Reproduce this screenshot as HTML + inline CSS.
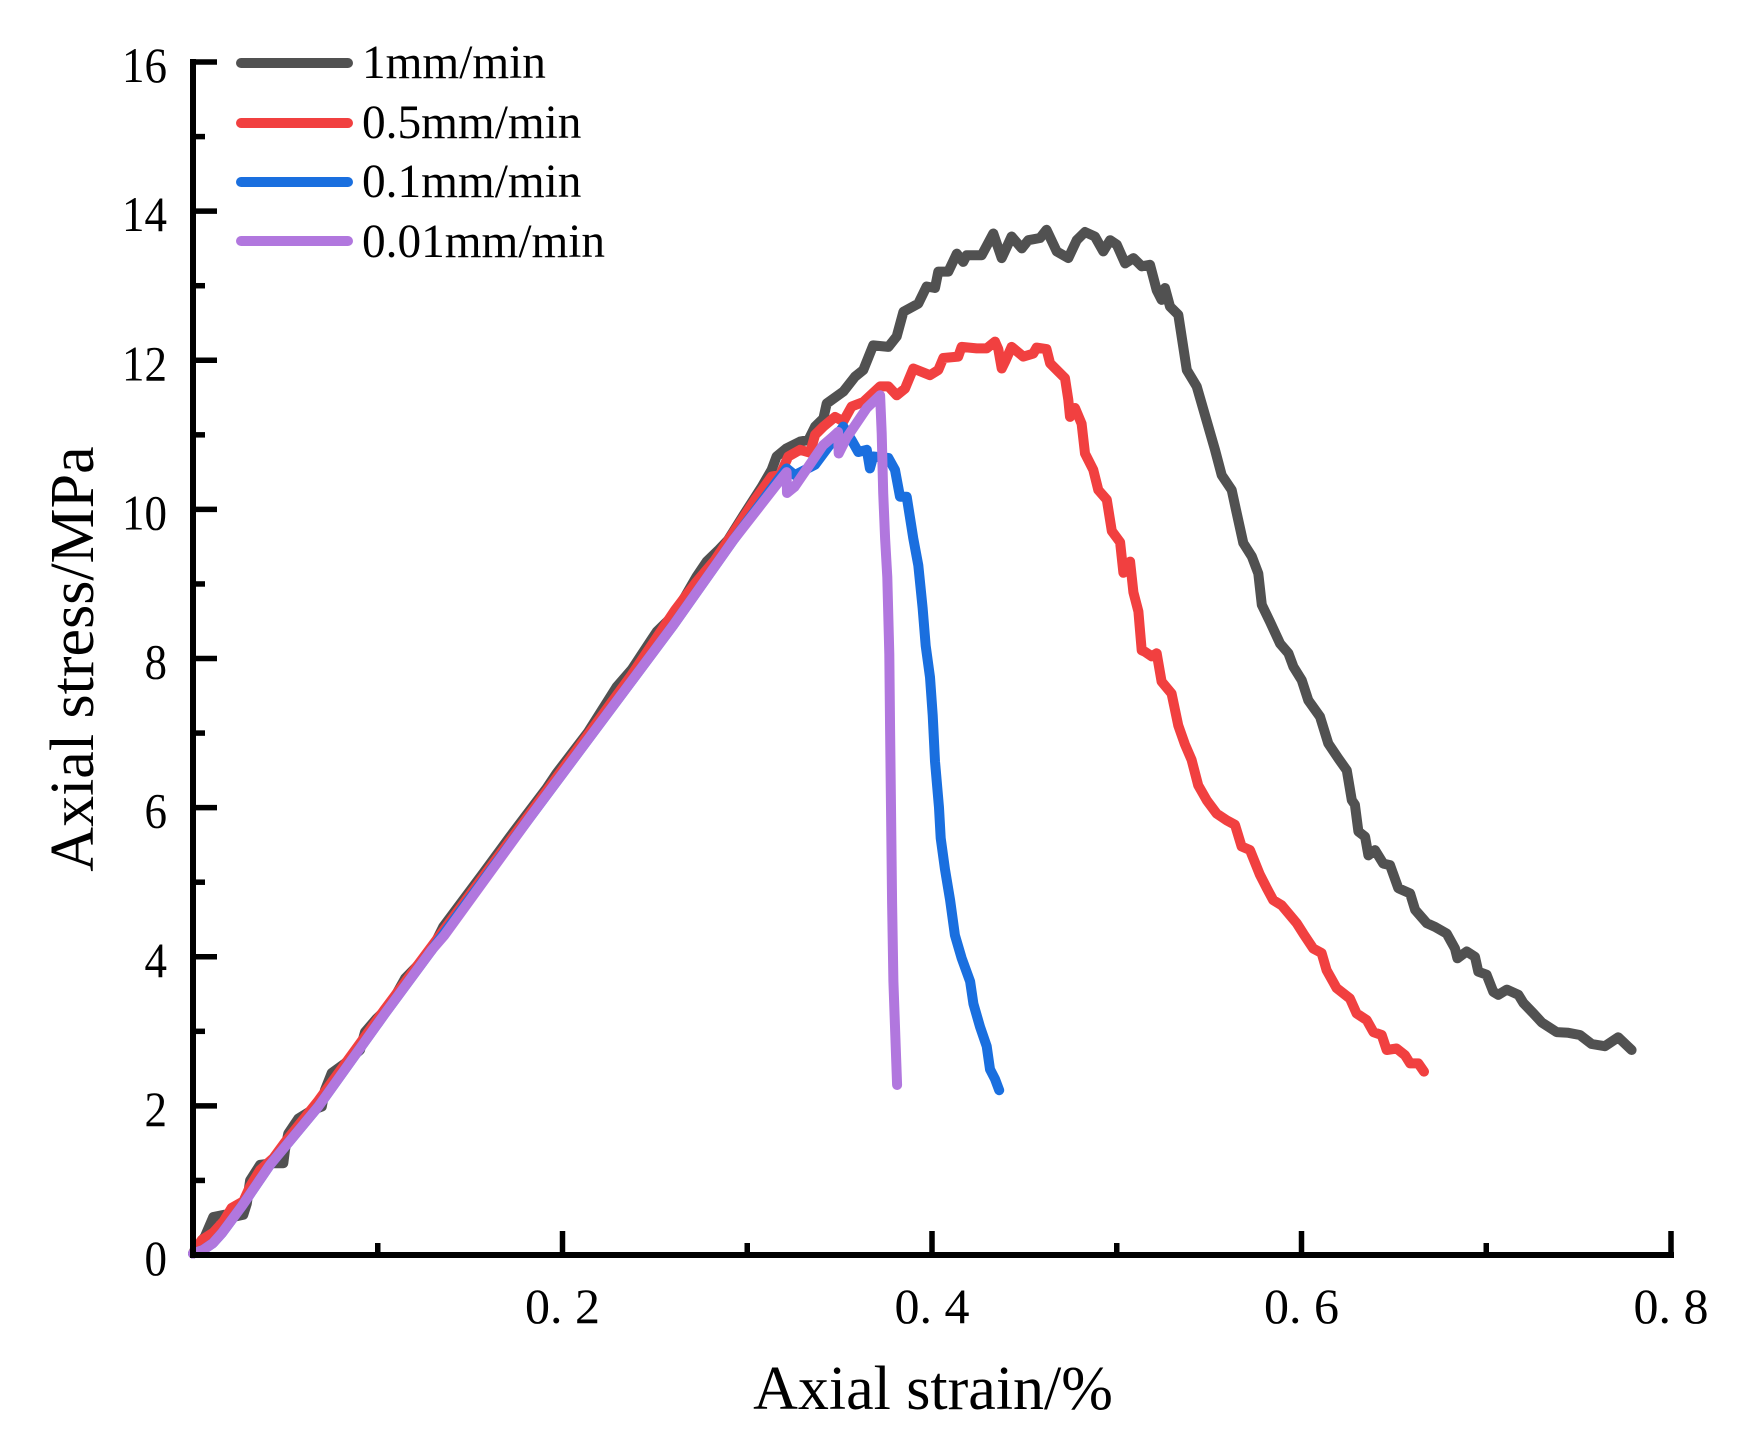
<!DOCTYPE html>
<html lang="en">
<head>
<meta charset="utf-8">
<title>Axial stress vs axial strain</title>
<style>
html,body{margin:0;padding:0;background:#fff;width:1741px;height:1449px;overflow:hidden}
svg{display:block}
text{font-family:"Liberation Serif","Times New Roman",serif;fill:#000}
.legend-text{font-size:47.3px}
.axis-title{font-size:62px}
.tick-text{font-size:50px}
</style>
</head>
<body>
<svg id="chart" xmlns="http://www.w3.org/2000/svg" width="1741" height="1449" viewBox="0 0 1741 1449">
  <rect x="0" y="0" width="1741" height="1449" fill="#fff"/>
  <g id="series-layer"></g>
  <g id="axes-layer"></g>
  <text class="axis-title" x="933" y="1409" text-anchor="middle">Axial strain/%</text>
  <text class="axis-title" transform="translate(93,659) rotate(-90)" text-anchor="middle">Axial stress/MPa</text>
  <g>
    <line x1="241" y1="63" x2="348" y2="63" stroke="#515151" stroke-width="10" stroke-linecap="round"/>
    <text class="legend-text" x="362" y="78">1mm/min</text>
    <line x1="241" y1="123" x2="348" y2="123" stroke="#F14040" stroke-width="10" stroke-linecap="round"/>
    <text class="legend-text" x="362" y="138">0.5mm/min</text>
    <line x1="241" y1="182" x2="348" y2="182" stroke="#1A6FDF" stroke-width="10" stroke-linecap="round"/>
    <text class="legend-text" x="362" y="197">0.1mm/min</text>
    <line x1="241" y1="241" x2="348" y2="241" stroke="#B177DE" stroke-width="10" stroke-linecap="round"/>
    <text class="legend-text" x="362" y="257">0.01mm/min</text>
  </g>
</svg>
<script>
var xMajorTicks = [0.2, 0.4, 0.6, 0.8];
var xMajorLabels = ["0. 2", "0. 4", "0. 6", "0. 8"];
var xMinorTicks = [0.1, 0.3, 0.5, 0.7];
var yMajorTicks = [0, 2, 4, 6, 8, 10, 12, 14, 16];
var yMajorLabels = ["0", "2", "4", "6", "8", "10", "12", "14", "16"];
var yMinorTicks = [1, 3, 5, 7, 9, 11, 13, 15];

var strain1 = [0,.001,.0065,.011,.0173,.0235,.0272,.0291,.0309,.0363,.0426,.0489,.0498,.0516,.057,.0642,.0697,.0714,.0751,.0823,.0904,.0931,.0994,.1049,.1103,.1148,.1211,.1292,.1354,.157,.1716,.1914,.1968,.214,.2293,.2374,.251,.26,.2663,.2726,.278,.2843,.2896,.2979,.3078,.3132,.3159,.3213,.3286,.3331,.3367,.3412,.343,.352,.3583,.3628,.3682,.3764,.3809,.3845,.3926,.3971,.4016,.4034,.4088,.4134,.4169,.4188,.4269,.4332,.4377,.4431,.4486,.4521,.4585,.462,.4675,.4738,.4783,.4828,.4882,.4927,.4964,.5,.5045,.509,.5135,.518,.5216,.5243,.5261,.5288,.5333,.5379,.5433,.5532,.5568,.5622,.5649,.5685,.5731,.5766,.5785,.583,.5884,.5929,.5956,.6001,.6037,.61,.6145,.6199,.6245,.6272,.6289,.6308,.6344,.6362,.6398,.6443,.6479,.6524,.6588,.6615,.6678,.6723,.6786,.6831,.6844,.6894,.6939,.6957,.7002,.7038,.7065,.7111,.7174,.7201,.7255,.73,.7381,.7444,.7507,.757,.7642,.7714,.7787];
var stress1 = [.02,.07,.25,.51,.54,.52,.54,.69,1.0,1.21,1.23,1.23,1.41,1.63,1.83,1.94,1.99,2.21,2.44,2.57,2.75,2.99,3.17,3.3,3.51,3.71,3.87,4.09,4.4,5.12,5.61,6.26,6.46,7.02,7.62,7.85,8.36,8.58,8.83,9.1,9.3,9.45,9.59,9.92,10.3,10.53,10.71,10.82,10.91,10.93,11.11,11.22,11.42,11.58,11.78,11.87,12.2,12.18,12.32,12.65,12.76,12.99,12.97,13.19,13.19,13.43,13.32,13.41,13.41,13.7,13.37,13.66,13.5,13.61,13.64,13.75,13.46,13.37,13.61,13.72,13.66,13.46,13.61,13.55,13.3,13.37,13.26,13.28,12.94,12.81,12.97,12.72,12.61,11.87,11.65,10.8,10.46,10.26,9.95,9.55,9.37,9.14,8.72,8.49,8.2,8.07,7.89,7.71,7.44,7.22,6.86,6.66,6.5,6.1,6.04,5.68,5.61,5.36,5.43,5.25,5.23,4.92,4.85,4.63,4.45,4.4,4.31,4.11,3.98,4.07,4.0,3.8,3.76,3.53,3.49,3.56,3.49,3.38,3.24,3.12,2.99,2.98,2.95,2.83,2.8,2.92,2.75];

var strain05 = [0,.0047,.011,.0165,.0209,.0272,.0309,.0363,.0435,.05,.0678,.1039,.1292,.1833,.2203,.2374,.2501,.2609,.2726,.2825,.2923,.3042,.3132,.3177,.3222,.3286,.334,.3367,.3412,.3475,.352,.3565,.3628,.3719,.3764,.3809,.3854,.3899,.3989,.4034,.4061,.4142,.416,.4242,.4296,.4341,.4359,.4377,.4395,.4431,.4494,.4548,.4566,.462,.4639,.472,.4738,.4747,.4774,.481,.4828,.4873,.49,.4946,.4973,.5018,.5036,.5072,.509,.5117,.5135,.5153,.5189,.5216,.5243,.5297,.5333,.5369,.5405,.5441,.5487,.5541,.5595,.564,.5676,.5721,.5775,.5812,.5847,.5893,.5974,.601,.6064,.6109,.6136,.619,.6262,.6298,.6353,.6389,.6434,.6461,.6515,.656,.6588,.6632,.6663];
var stress05 = [.02,.2,.3,.45,.63,.72,.92,1.14,1.3,1.52,2.07,3.3,4.14,5.95,7.2,7.78,8.25,8.65,9.03,9.32,9.68,10.13,10.44,10.46,10.71,10.8,10.76,11.0,11.11,11.24,11.18,11.38,11.44,11.65,11.65,11.53,11.62,11.89,11.8,11.87,12.03,12.05,12.18,12.16,12.16,12.25,12.15,11.89,11.98,12.18,12.05,12.09,12.17,12.15,11.96,11.76,11.47,11.24,11.36,11.15,10.75,10.53,10.26,10.13,9.71,9.56,9.15,9.3,8.89,8.63,8.11,8.09,8.03,8.07,7.69,7.53,7.1,6.85,6.64,6.3,6.1,5.92,5.83,5.77,5.48,5.43,5.1,4.92,4.76,4.69,4.45,4.31,4.11,4.05,3.82,3.58,3.44,3.24,3.15,2.99,2.95,2.75,2.77,2.68,2.57,2.57,2.46];

var strain01 = [0,.0054,.0108,.0157,.0263,.0417,.0678,.1039,.1292,.1833,.2203,.26,.2925,.3213,.3258,.3367,.352,.3565,.3601,.3647,.3664,.3682,.3764,.38,.3827,.3863,.3899,.3926,.3949,.3966,.3989,.4004,.4016,.4038,.4047,.407,.4098,.4124,.4161,.4206,.4224,.426,.4296,.4314,.4341,.4364];
var stress01 = [.02,.067,.16,.295,.65,1.21,1.99,3.24,4.09,5.9,7.13,8.45,9.59,10.55,10.46,10.6,11.11,10.93,10.77,10.8,10.55,10.71,10.69,10.53,10.17,10.17,9.61,9.25,8.68,8.17,7.75,7.24,6.62,6.0,5.59,5.18,4.76,4.29,3.98,3.67,3.37,3.06,2.8,2.49,2.36,2.21];

var strain001 = [0,.0054,.0108,.0157,.0263,.0417,.0678,.1039,.1292,.1358,.1833,.2203,.26,.2925,.3177,.3213,.3215,.3255,.341,.3457,.3492,.3495,.3538,.3647,.3719,.3728,.3736,.3746,.3758,.3769,.3773,.3778,.3784,.3791,.3802,.3811];
var stress001 = [.02,.067,.16,.295,.65,1.21,1.99,3.24,4.09,4.28,5.9,7.13,8.45,9.59,10.39,10.5,10.22,10.3,10.86,10.96,11.04,10.75,10.96,11.36,11.53,11.02,10.22,9.61,9.09,8.06,7.03,6.0,4.71,3.67,2.91,2.28];

var SVG_NS = "http://www.w3.org/2000/svg";
function xPos(v) { return 193 + v * 1847.5; }
function yPos(v) { return 1255 - v * 74.56; }

function makeLine(x1, y1, x2, y2, width) {
  var el = document.createElementNS(SVG_NS, "line");
  el.setAttribute("x1", x1);
  el.setAttribute("y1", y1);
  el.setAttribute("x2", x2);
  el.setAttribute("y2", y2);
  el.setAttribute("stroke", "#000");
  el.setAttribute("stroke-width", width);
  return el;
}

function drawSeries(name, xs, ys, color) {
  var el = document.createElementNS(SVG_NS, "polyline");
  var pts = [];
  for (var i = 0; i < xs.length; i++) {
    pts.push(xPos(xs[i]).toFixed(1) + "," + yPos(ys[i]).toFixed(1));
  }
  el.setAttribute("points", pts.join(" "));
  el.setAttribute("fill", "none");
  el.setAttribute("stroke", color);
  el.setAttribute("stroke-width", "10");
  el.setAttribute("stroke-linejoin", "round");
  el.setAttribute("stroke-linecap", "round");
  
  
  document.getElementById("series-layer").appendChild(el);
}

drawSeries("series-1mm-min", strain1, stress1, "#515151");
drawSeries("series-0-5mm-min", strain05, stress05, "#F14040");
drawSeries("series-0-1mm-min", strain01, stress01, "#1A6FDF");
drawSeries("series-0-01mm-min", strain001, stress001, "#B177DE");

var axes = document.getElementById("axes-layer");

var xAxis = makeLine(190, yPos(0), xPos(0.8) + 3, yPos(0), 6);


axes.appendChild(xAxis);

var yAxis = makeLine(xPos(0), yPos(16) - 3, xPos(0), yPos(0) + 3, 6);


axes.appendChild(yAxis);

xMajorTicks.forEach(function (v, i) {
  var tick = makeLine(xPos(v), yPos(0), xPos(v), yPos(0) - 24, 5.5);
  
  
  axes.appendChild(tick);
  var label = document.createElementNS(SVG_NS, "text");
  label.setAttribute("class", "tick-text");
  label.setAttribute("x", xPos(v));
  label.setAttribute("y", 1323);
  label.setAttribute("text-anchor", "middle");
  label.textContent = xMajorLabels[i];
  
  
  axes.appendChild(label);
});

xMinorTicks.forEach(function (v) {
  var tick = makeLine(xPos(v), yPos(0), xPos(v), yPos(0) - 12, 5.5);
  
  
  axes.appendChild(tick);
});

yMajorTicks.forEach(function (v, i) {
  var tick = makeLine(xPos(0), yPos(v), xPos(0) + 24, yPos(v), 5.5);
  
  
  axes.appendChild(tick);
  var label = document.createElementNS(SVG_NS, "text");
  label.setAttribute("class", "tick-text");
  label.setAttribute("text-anchor", "end");
  label.setAttribute("transform", "translate(167," + (yPos(v) + 20) + ") scale(.9,1)");
  label.textContent = yMajorLabels[i];
  
  
  axes.appendChild(label);
});

yMinorTicks.forEach(function (v) {
  var tick = makeLine(xPos(0), yPos(v), xPos(0) + 12, yPos(v), 5.5);
  
  
  axes.appendChild(tick);
});
</script>
</body>
</html>
